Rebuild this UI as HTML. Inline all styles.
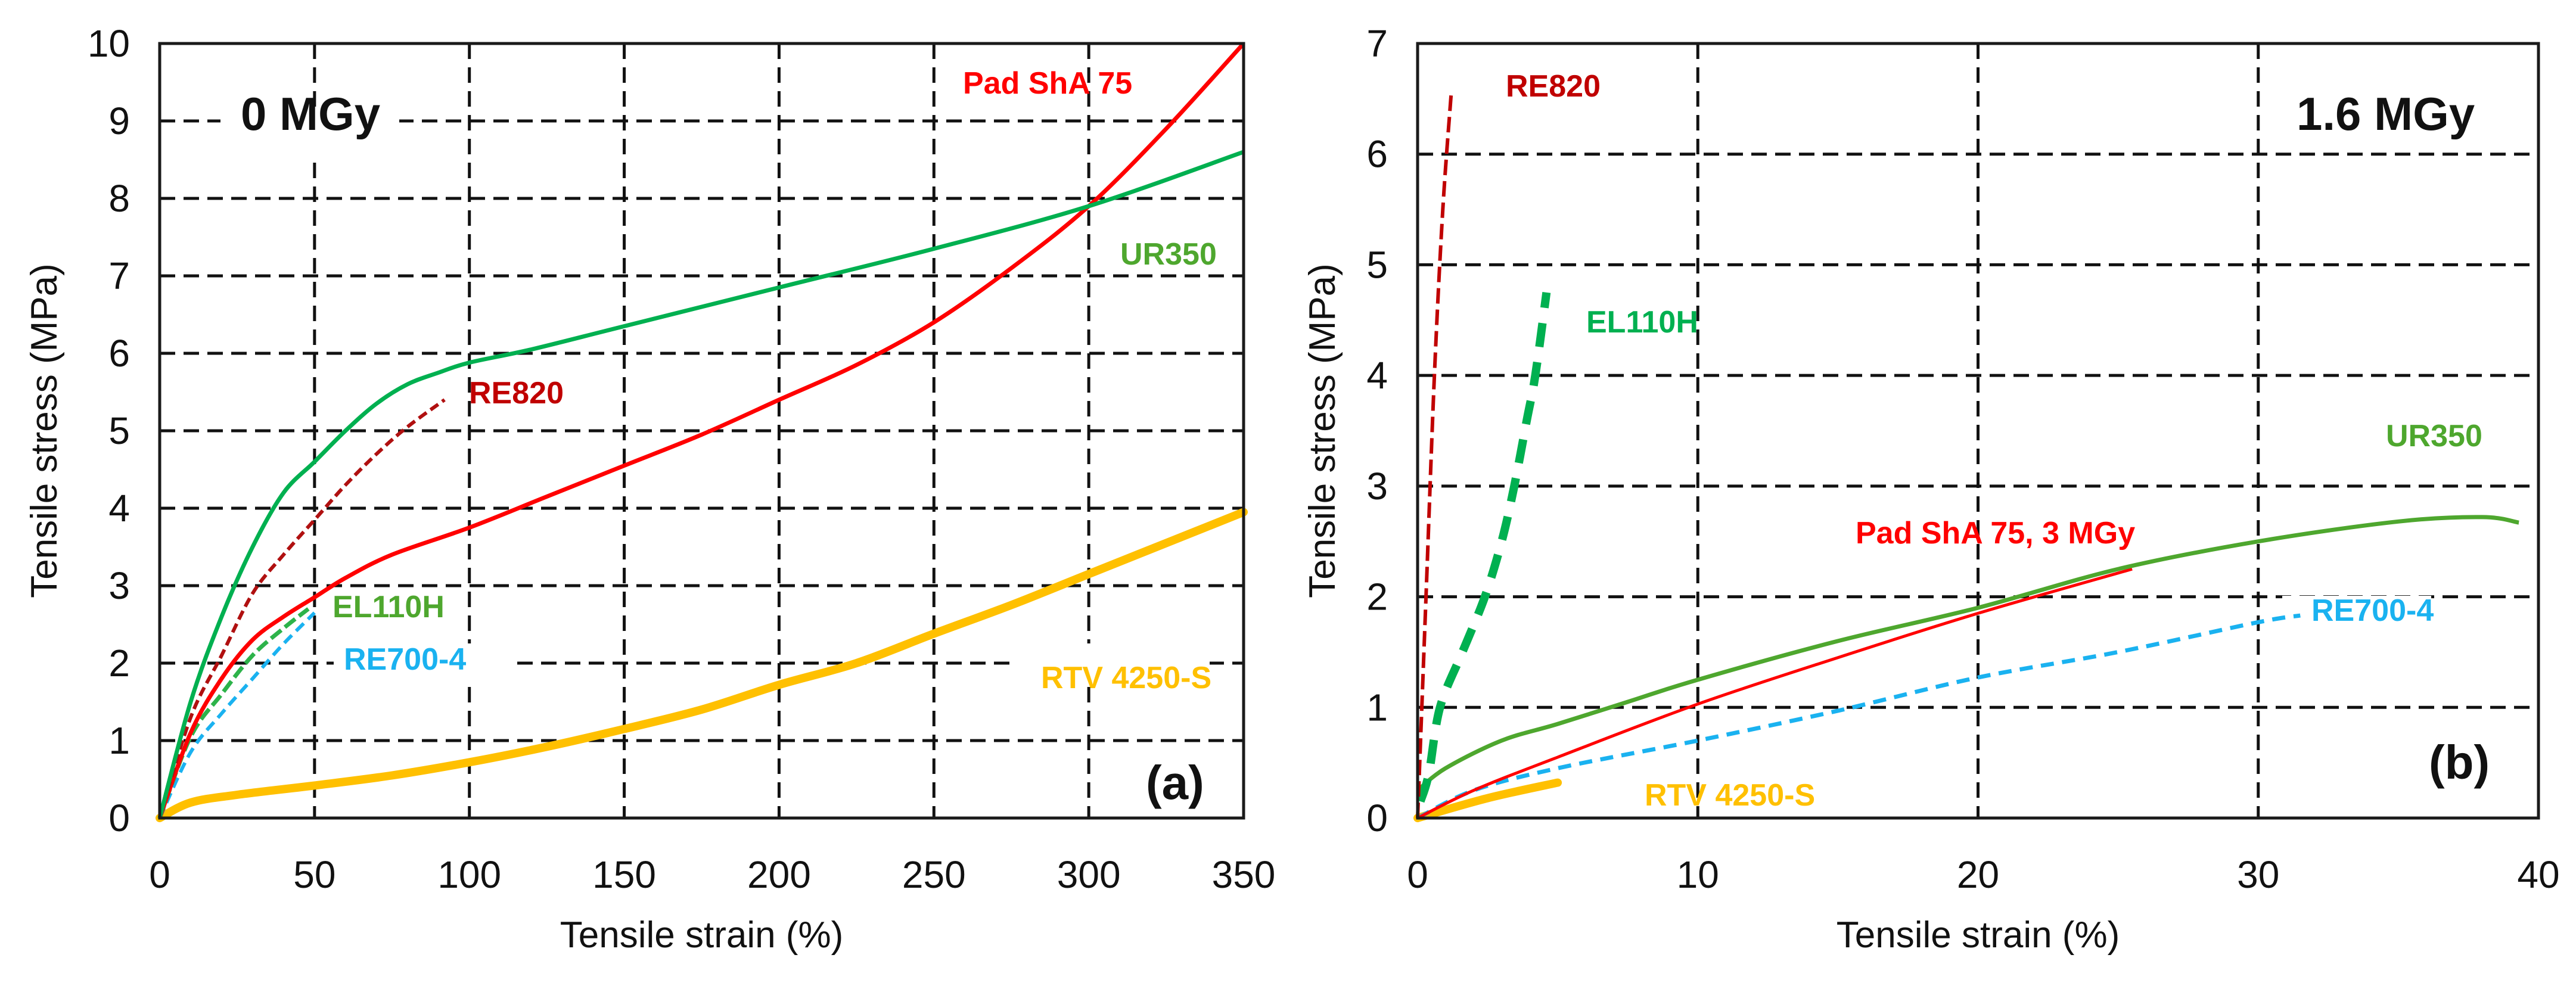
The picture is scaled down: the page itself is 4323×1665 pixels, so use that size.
<!DOCTYPE html>
<html><head><meta charset="utf-8"><style>
html,body{margin:0;padding:0;background:#fff;}
svg{display:block;}
text{font-family:"Liberation Sans",sans-serif;}
.lab{font-family:"Liberation Sans Narrow","Liberation Sans",sans-serif;font-weight:bold;}
</style></head><body>
<svg id="chart" width="4323" height="1665" viewBox="0 0 4323 1665" xmlns="http://www.w3.org/2000/svg"></svg>
<script>
// Panel (a) 0 MGy
const aXTicks = [0,50,100,150,200,250,300,350];
const aYTicks = [0,1,2,3,4,5,6,7,8,9,10];
const aUR350X = [0,10,20,30,40,50,60,70,80,90,100,120,150,200,250,300,350];
const aUR350Y = [0,1.5,2.6,3.5,4.2,4.6,5.0,5.35,5.6,5.75,5.88,6.05,6.35,6.85,7.35,7.9,8.6];
const aPadX = [0,10,20,30,40,50,60,75,100,125,150,175,200,225,250,275,300,325,350];
const aPadY = [0,1.1,1.8,2.3,2.6,2.85,3.1,3.4,3.75,4.15,4.55,4.95,5.4,5.85,6.4,7.1,7.9,8.9,10];
const aRE820X = [0,10,20,30,40,50,60,70,80,92];
const aRE820Y = [0,1.3,2.1,2.9,3.4,3.85,4.3,4.7,5.05,5.4];
const aEL110X = [0,10,20,30,40,48];
const aEL110Y = [0,1.05,1.6,2.1,2.45,2.7];
const aRE700X = [0,10,20,30,40,50];
const aRE700Y = [0,0.85,1.35,1.8,2.25,2.65];
const aRTVX = [0,10,25,50,75,100,125,150,175,200,225,250,275,300,325,350];
const aRTVY = [0,0.2,0.3,0.42,0.55,0.72,0.92,1.15,1.4,1.72,2.0,2.38,2.75,3.15,3.55,3.95];
// Panel (b) 1.6 MGy
const bXTicks = [0,10,20,30,40];
const bYTicks = [0,1,2,3,4,5,6,7];
const bRE820X = [0,0.3,0.6,0.9,1.2];
const bRE820Y = [0,2,4,5.5,6.55];
const bEL110X = [0.1,0.4,0.8,1.6,2.4,3.0,3.45,3.9,4.2,4.6];
const bEL110Y = [0.15,0.4,1.0,1.5,2.0,2.5,3.0,3.6,4.0,4.75];
const bUR350X = [0,1,3,5,7.5,10,15,20,25,30,35,38,39.3];
const bUR350Y = [0.25,0.45,0.7,0.85,1.05,1.25,1.6,1.9,2.25,2.5,2.68,2.72,2.67];
const bPadX = [0,2,5,10,15,20,25.5];
const bPadY = [0,0.25,0.55,1.03,1.45,1.85,2.25];
const bRE700X = [0,2,5,10,15,20,25,30,31.5];
const bRE700Y = [0,0.25,0.45,0.7,0.97,1.27,1.5,1.77,1.83];
const bRTVX = [0,2.5,5];
const bRTVY = [0,0.18,0.32];

const NS='http://www.w3.org/2000/svg';
const svg=document.getElementById('chart');
function mk(tag,attrs,parent){const e=document.createElementNS(NS,tag);for(const k in attrs)e.setAttribute(k,attrs[k]);(parent||svg).appendChild(e);return e;}
function smooth(pts){
  let d='M'+pts[0][0].toFixed(1)+' '+pts[0][1].toFixed(1);
  for(let i=0;i<pts.length-1;i++){
    const p0=pts[i-1]||pts[i],p1=pts[i],p2=pts[i+1],p3=pts[i+2]||p2;
    const c1=[p1[0]+(p2[0]-p0[0])/6,p1[1]+(p2[1]-p0[1])/6];
    const c2=[p2[0]-(p3[0]-p1[0])/6,p2[1]-(p3[1]-p1[1])/6];
    d+=` C${c1[0].toFixed(1)} ${c1[1].toFixed(1)} ${c2[0].toFixed(1)} ${c2[1].toFixed(1)} ${p2[0].toFixed(1)} ${p2[1].toFixed(1)}`;
  }
  return d;
}

function panel(p){
  const g=mk('g',{});
  
  
  const sx=v=>p.L+(v-p.xmin)/(p.xmax-p.xmin)*(p.R-p.L);
  const sy=v=>p.B-(v-p.ymin)/(p.ymax-p.ymin)*(p.B-p.T);
  p.yt.forEach(t=>{ if(t>p.ymin&&t<p.ymax){
    const l=mk('line',{x1:p.L,x2:p.R,y1:sy(t),y2:sy(t),stroke:'#111','stroke-width':5,'stroke-dasharray':'26 14'},g);
    
    
  }});
  p.xt.forEach(t=>{ if(t>p.xmin&&t<p.xmax){
    const l=mk('line',{x1:sx(t),x2:sx(t),y1:p.T,y2:p.B,stroke:'#111','stroke-width':5,'stroke-dasharray':'26 14'},g);
    
    
  }});
  p.bgs.forEach(b=>{mk('rect',{x:b[0],y:b[1],width:b[2],height:b[3],fill:'#fff'},g);});
  p.yt.forEach(t=>{const e=mk('text',{x:p.L-50,y:sy(t)+22,'text-anchor':'end','font-size':64,fill:'#111'},g);e.textContent=t;
    
    });
  p.xt.forEach(t=>{const e=mk('text',{x:sx(t),y:p.B+117,'text-anchor':'middle','font-size':64,fill:'#111'},g);e.textContent=t;
    
    });
  p.series.forEach(s=>{
    const pts=s.x.map((v,i)=>[sx(v),sy(s.y[i])]);
    const a={d:smooth(pts),fill:'none',stroke:s.c,'stroke-width':s.w,'stroke-linecap':s.cap||'butt','stroke-linejoin':'round'};
    if(s.dash)a['stroke-dasharray']=s.dash;
    const e=mk('path',a,g);
    
    
  });
  const f=mk('rect',{x:p.L,y:p.T,width:p.R-p.L,height:p.B-p.T,fill:'none',stroke:'#1a1a1a','stroke-width':5},g);
  
  
  p.labels.forEach(l=>{const e=mk('text',{x:l[1],y:l[2],fill:l[3],class:'lab','font-size':l[4]},g);e.textContent=l[0];
    
    });
  const yt=mk('text',{x:0,y:0,'text-anchor':'middle','font-size':62,fill:'#111',transform:`translate(${p.ytx},${(p.T+p.B)/2}) rotate(-90)`},g);
  yt.textContent='Tensile stress (MPa)';
  
  
  const xt=mk('text',{x:(p.L+p.R)/2,y:1590,'text-anchor':'middle','font-size':62,fill:'#111'},g);
  xt.textContent='Tensile strain (%)';
  
  
}

const GR='#00b050', GR2='#4ea72e', RED='#ff0000', DRED='#c00000', BL='#1ab2f0', YE='#ffc000';
panel({name:'panel-a',L:268,R:2087,T:73,B:1373,xmin:0,xmax:350,ymin:0,ymax:10,xt:aXTicks,yt:aYTicks,ytx:95,
  bgs:[[370,190,300,70],[560,1080,300,70],[1700,1080,330,70]],
  series:[
    {n:'rtv4250s-line',x:aRTVX,y:aRTVY,c:YE,w:14,cap:'round'},
    {n:'re700-4-line',x:aRE700X,y:aRE700Y,c:BL,w:6,dash:'18 10'},
    {n:'el110h-line',x:aEL110X,y:aEL110Y,c:'#2db34a',w:7,dash:'22 8'},
    {n:'pad-sha75-line',x:aPadX,y:aPadY,c:RED,w:7},
    {n:'re820-line',x:aRE820X,y:aRE820Y,c:'#b01010',w:6,dash:'16 8'},
    {n:'ur350-line',x:aUR350X,y:aUR350Y,c:GR,w:7}],
  labels:[['0 MGy',404,218,'#111',78,'dose-label'],['Pad ShA 75',1616,157,RED,52,'pad-sha75-label'],['UR350',1880,444,GR2,52,'ur350-label'],
    ['RE820',787,677,DRED,52,'re820-label'],['EL110H',558,1036,GR2,52,'el110h-label'],['RE700-4',577,1124,BL,52,'re700-4-label'],
    ['RTV 4250-S',1747,1155,YE,52,'rtv4250s-label'],['(a)',1923,1341,'#111',80,'panel-letter']]});
panel({name:'panel-b',L:2379,R:4260,T:73,B:1373,xmin:0,xmax:40,ymin:0,ymax:7,xt:bXTicks,yt:bYTicks,ytx:2240,
  bgs:[[3830,1000,250,70]],
  series:[
    {n:'rtv4250s-line',x:bRTVX,y:bRTVY,c:YE,w:14,cap:'round'},
    {n:'re700-4-line',x:bRE700X,y:bRE700Y,c:BL,w:7,dash:'22 14'},
    {n:'pad-sha75-3mgy-line',x:bPadX,y:bPadY,c:RED,w:5},
    {n:'ur350-line',x:bUR350X,y:bUR350Y,c:GR2,w:7},
    {n:'el110h-line',x:bEL110X,y:bEL110Y,c:GR,w:14,dash:'40 26'},
    {n:'re820-line',x:bRE820X,y:bRE820Y,c:DRED,w:6,dash:'26 10'}],
  labels:[['RE820',2527,162,DRED,52,'re820-label'],['1.6 MGy',3854,218,'#111',78,'dose-label'],['EL110H',2662,558,GR,52,'el110h-label'],
    ['UR350',4004,749,GR2,52,'ur350-label'],['Pad ShA 75, 3 MGy',3114,912,RED,52,'pad-sha75-label'],['RE700-4',3879,1042,BL,52,'re700-4-label'],
    ['RTV 4250-S',2760,1352,YE,52,'rtv4250s-label'],['(b)',4076,1307,'#111',80,'panel-letter']]});
</script>
</body></html>
